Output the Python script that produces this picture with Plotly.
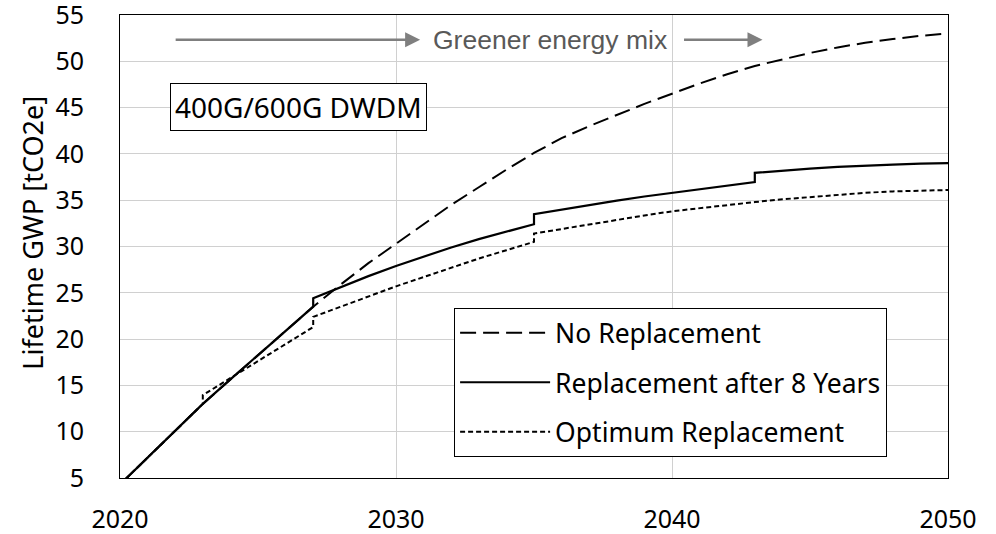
import plotly.graph_objects as go

# ---- data ----
years_no_rep = list(range(2020, 2051))
gwp_no_rep = [4.3, 7.2, 10.1, 13.0, 15.65, 18.3, 20.9, 23.5, 25.9, 28.2,
              30.3, 32.4, 34.5, 36.4, 38.3, 40.1, 41.7, 43.0, 44.2, 45.4,
              46.5, 47.6, 48.6, 49.5, 50.2, 50.9, 51.5, 52.0, 52.4, 52.75, 53.0]

years_rep8 = (list(range(2020, 2028)) + [2027] + list(range(2028, 2036)) + [2035]
              + list(range(2036, 2044)) + [2043] + list(range(2044, 2051)))
gwp_rep8 = [4.3, 7.2, 10.1, 13.0, 15.65, 18.3, 20.9, 23.5,
            24.4, 25.6, 26.8, 27.9, 28.9, 29.9, 30.8, 31.6, 32.4,
            33.5, 34.0, 34.5, 34.95, 35.4, 35.8, 36.2, 36.6, 36.95,
            37.95, 38.2, 38.4, 38.6, 38.75, 38.85, 38.95, 39.0]

years_opt = (list(range(2020, 2024)) + [2023] + list(range(2024, 2028)) + [2027]
             + list(range(2028, 2036)) + [2035] + list(range(2036, 2051)))
gwp_opt = [4.3, 7.2, 10.1, 13.0,
           13.95, 15.8, 17.6, 19.45, 21.3,
           22.4, 23.5, 24.6, 25.7, 26.7, 27.7, 28.7, 29.6, 30.5,
           31.4, 31.9, 32.4, 32.9, 33.35, 33.8, 34.15, 34.5, 34.8, 35.1,
           35.35, 35.6, 35.8, 35.95, 36.05, 36.1]

series_names = ["No Replacement", "Replacement after 8 Years", "Optimum Replacement"]
x_ticks = [2020, 2030, 2040, 2050]
y_ticks = list(range(5, 56, 5))
y_title = "Lifetime GWP [tCO2e]"
box_label = "400G/600G DWDM"
arrow_label = "Greener energy mix"

FONT = "Noto Sans"

fig = go.Figure()
fig.add_trace(go.Scatter(x=years_no_rep, y=gwp_no_rep, mode="lines", name=series_names[0],
                         legendgroup="a",
                         line=dict(color="black", width=2, dash="16px,7px")))
fig.add_trace(go.Scatter(x=years_rep8, y=gwp_rep8, mode="lines", name=series_names[1],
                         legendgroup="b",
                         line=dict(color="black", width=2.2)))
fig.add_trace(go.Scatter(x=years_opt, y=gwp_opt, mode="lines", name=series_names[2],
                         legendgroup="c",
                         line=dict(color="black", width=2, dash="5px,3px")))

fig.update_layout(
    width=996, height=534,
    margin=dict(l=120, r=48, t=15, b=56, autoexpand=False),
    paper_bgcolor="white", plot_bgcolor="white",
    font=dict(family=FONT, size=25, color="black"),
    showlegend=True,
    legend=dict(x=0.4035, y=0.367, xanchor="left", yanchor="top",
                bgcolor="white", bordercolor="black", borderwidth=1,
                font=dict(family=FONT, size=26.5, color="black"),
                tracegroupgap=12, traceorder="grouped",
                itemwidth=90),
    xaxis=dict(range=[2020, 2050], tickvals=x_ticks, showgrid=True,
               gridcolor="#d0d0d0", gridwidth=1, zeroline=False,
               showline=True, linecolor="black", linewidth=1, mirror=True,
               ticks="", ticklabelstandoff=19, automargin=False,
               ticklabeloverflow="allow",
               tickfont=dict(family=FONT, size=25, color="black")),
    yaxis=dict(range=[4.999, 55.001], tickvals=y_ticks, showgrid=True,
               gridcolor="#d0d0d0", gridwidth=1, zeroline=False,
               showline=True, linecolor="black", linewidth=1, mirror=True,
               ticks="", ticklabelstandoff=30, automargin=False,
               ticklabeloverflow="allow",
               tickfont=dict(family=FONT, size=25, color="black")),
)

# y-axis title
fig.add_annotation(text=y_title, xref="paper", yref="paper", x=-0.105, y=0.53,
                   xanchor="center", yanchor="middle", textangle=-90, showarrow=False,
                   font=dict(family=FONT, size=27, color="black"))

fig.add_annotation(text=box_label, xref="paper", yref="paper", x=0.216, y=0.8017,
                   xanchor="center", yanchor="middle", showarrow=False,
                   font=dict(family=FONT, size=28, color="black"),
                   bgcolor="white", bordercolor="black", borderwidth=1, borderpad=4)

# arrows for "Greener energy mix"
fig.add_annotation(xref="paper", yref="paper", x=0.3625, y=0.9466, ax=-246, ay=0,
                   text="", showarrow=True, arrowhead=2, arrowsize=1.2,
                   arrowwidth=2.5, arrowcolor="#7f7f7f")
fig.add_annotation(xref="paper", yref="paper", x=0.776, y=0.9466, ax=-80, ay=0,
                   text="", showarrow=True, arrowhead=2, arrowsize=1.2,
                   arrowwidth=2.5, arrowcolor="#7f7f7f")
fig.add_annotation(text=arrow_label, xref="paper", yref="paper", x=0.376, y=0.9466,
                   xanchor="left", yanchor="middle", showarrow=False,
                   font=dict(family="Liberation Sans", size=26.5, color="#595959"))

fig.write_html("out.html",
               config={"displayModeBar": False},
               post_script="document.body.style.margin='0px';document.body.style.padding='0px';")
